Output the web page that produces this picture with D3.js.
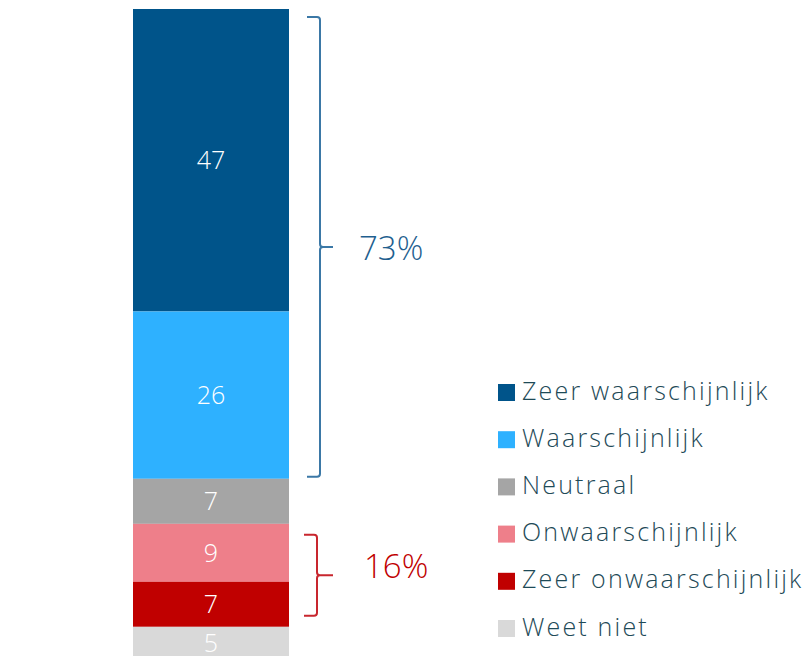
<!DOCTYPE html>
<html><head><meta charset="utf-8">
<script src="https://cdn.jsdelivr.net/npm/d3@7"></script>
<style>body{margin:0;background:#fff}svg{display:block}</style>
</head><body>
<script>
const categories = ["Zeer waarschijnlijk","Waarschijnlijk","Neutraal","Onwaarschijnlijk","Zeer onwaarschijnlijk","Weet niet"];
const values = [47, 26, 7, 9, 7, 5];
const colors = ["#00548a","#2eb1ff","#a5a5a5","#ee7f8a","#c00000","#d9d9d9"];
const groupLabels = ["73%","16%"];
const groupRanges = [[0,1],[3,4]];
const groupColors = ["#3b78a6","#c8262e"];
const groupTextColors = ["#1f5f8f","#c00000"];

const W = 808, H = 656;
const svg = d3.select("body").append("svg").attr("width", W).attr("height", H);
const font = "'Open Sans', Lato, sans-serif";

const total = d3.sum(values);
const y = d3.scaleLinear().domain([0, total]).range([9, 659]);
const x = d3.scaleBand().domain(["bar"]).range([133, 289]).padding(0);

let cum = 0;
const stack = values.map((v,i) => { const d = {i, v, y0: cum, y1: cum + v}; cum += v; return d; });

svg.selectAll("rect.seg").data(stack).join("rect").attr("class","seg")
  .attr("x", x("bar")).attr("width", x.bandwidth())
  .attr("y", d => y(d.y0)).attr("height", d => y(d.y1) - y(d.y0))
  .attr("fill", d => colors[d.i]);

svg.selectAll("text.val").data(stack).join("text").attr("class","val")
  .attr("x", x("bar") + x.bandwidth()/2)
  .attr("y", d => (y(d.y0) + y(d.y1))/2)
  .attr("dy", "0.36em").attr("text-anchor","middle")
  .attr("fill","#fff").attr("font-family", font).attr("font-weight",300).attr("font-size",25)
  .text(d => d.v);

// brackets
groupRanges.forEach((r, gi) => {
  const top = y(stack[r[0]].y0) + (gi === 0 ? 8 : 11);
  const bot = y(stack[r[1]].y1) - (gi === 0 ? 2 : 11);
  const mid = (top + bot) / 2;
  const xl = gi === 0 ? 307 : 304, xv = gi === 0 ? 320 : 317, xt = 333, c = 3;
  const p = d3.path();
  p.moveTo(xl, top); p.lineTo(xv - c, top); p.quadraticCurveTo(xv, top, xv, top + c);
  p.lineTo(xv, mid - c); p.quadraticCurveTo(xv, mid, xv + c, mid); p.lineTo(xt, mid);
  p.moveTo(xv + c, mid); p.quadraticCurveTo(xv, mid, xv, mid + c);
  p.lineTo(xv, bot - c); p.quadraticCurveTo(xv, bot, xv - c, bot); p.lineTo(xl, bot);
  svg.append("path").attr("d", p.toString()).attr("fill","none")
    .attr("stroke", groupColors[gi]).attr("stroke-width", 2);
  svg.append("text").attr("x", gi === 0 ? 359 : 364).attr("y", gi === 0 ? mid + 1 : mid - 9).attr("dy","0.36em")
    .attr("fill", groupTextColors[gi])
    .attr("font-family", font).attr("font-weight",300).attr("font-size",33)
    .text(groupLabels[gi]);
});

// legend
const lg = svg.append("g");
const ly = d3.scalePoint().domain(categories).range([392.5, 628.5]);
lg.selectAll("rect").data(categories).join("rect")
  .attr("x", 498).attr("y", d => ly(d) - 8.5).attr("width", 17).attr("height", 17)
  .attr("fill", (d,i) => colors[i]);
lg.selectAll("text").data(categories).join("text")
  .attr("x", 522).attr("y", d => ly(d) - 2).attr("dy","0.36em")
  .attr("fill","#1e4a57").attr("font-family", font).attr("font-weight",300).attr("font-size",25)
  .attr("letter-spacing", 2.2)
  .text(d => d);
</script>
</body></html>
